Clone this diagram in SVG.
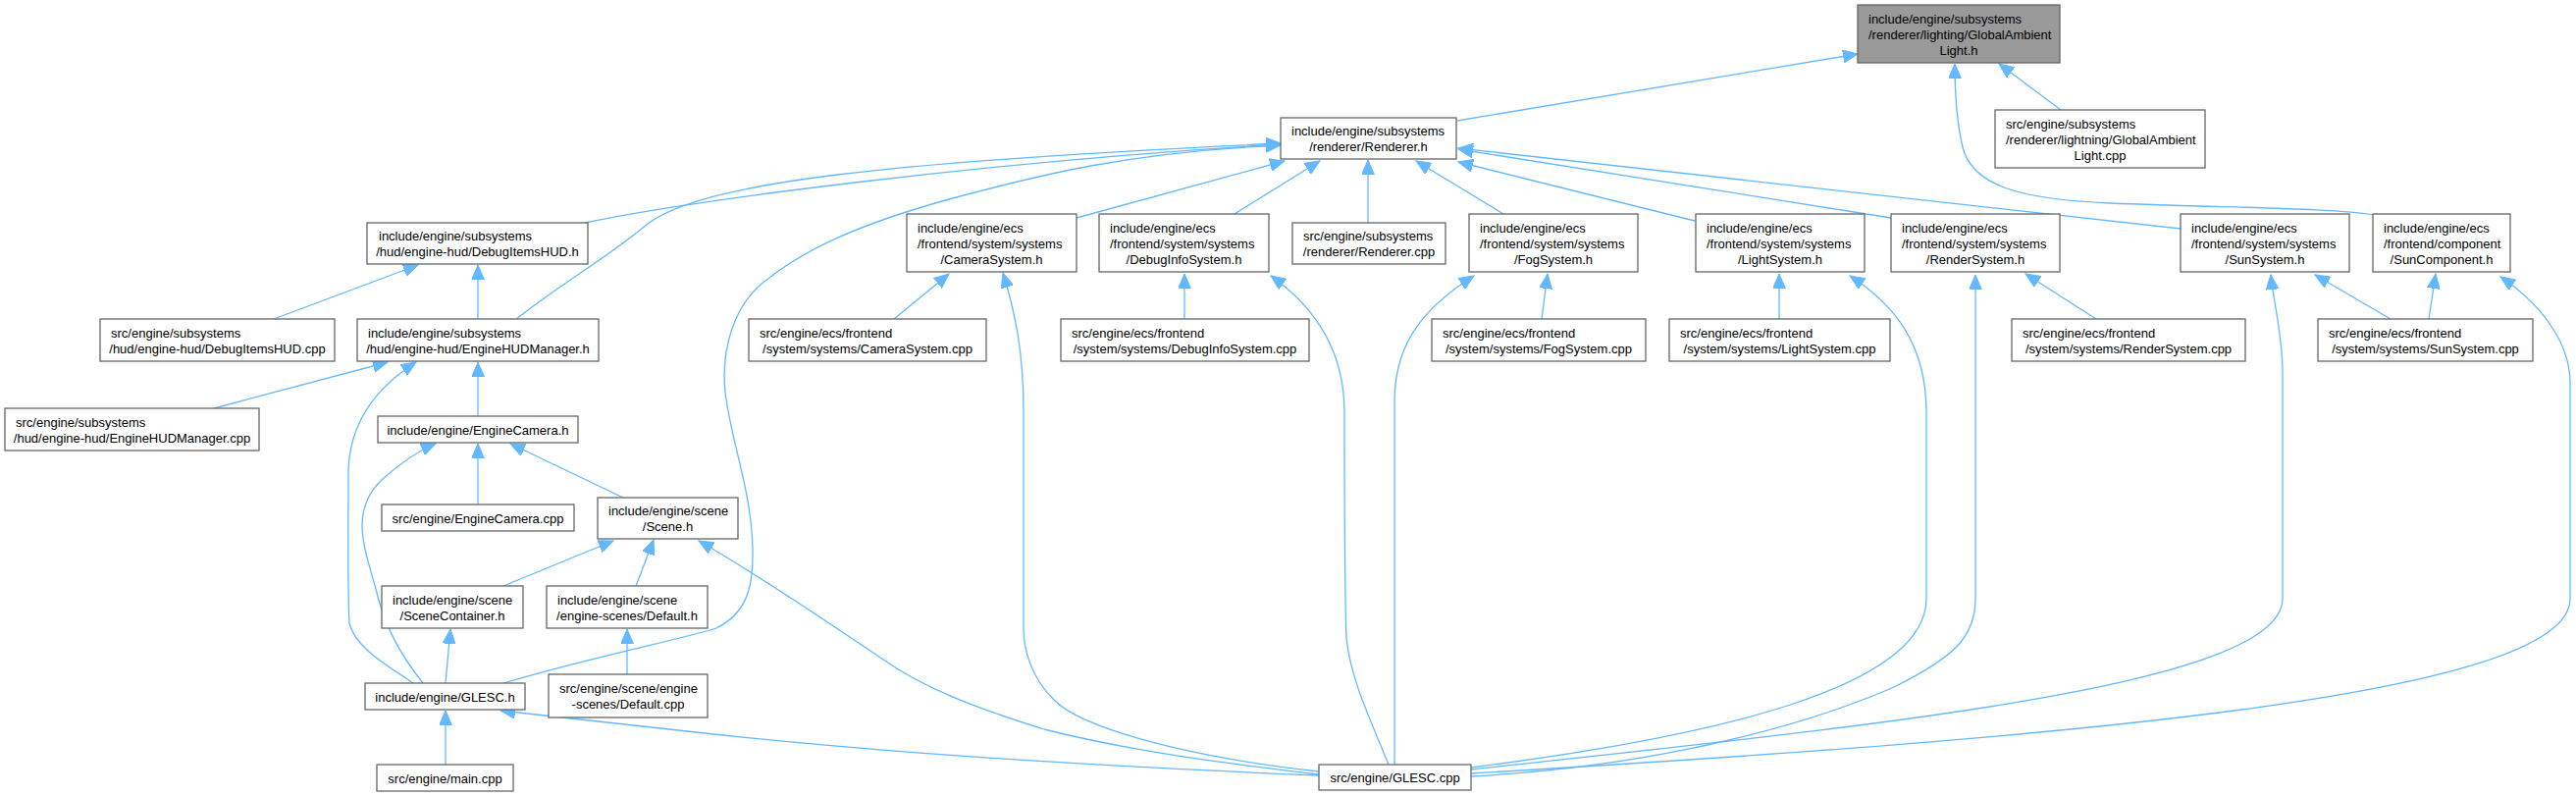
<svg xmlns="http://www.w3.org/2000/svg" width="2625" height="811" viewBox="0 0 2625 811">
<defs>
<style>
.n rect{fill:#ffffff;stroke:#666666;stroke-width:1.3}
.n.root rect{fill:#999999}
.n text{font-family:"Liberation Sans",Arial,sans-serif;font-size:13px;fill:#000000}
.m{text-anchor:middle}
.e path{fill:none;stroke:#63b8ff;stroke-width:1.3;marker-end:url(#arr)}
</style>
<marker id="arr" markerUnits="userSpaceOnUse" markerWidth="16" markerHeight="13" refX="15" refY="6.5" orient="auto">
<path d="M0,0 L15,6.5 L0,13 z" fill="#63b8ff" stroke="#63b8ff" stroke-width="1"/>
</marker>
</defs>
<rect width="2625" height="811" fill="#ffffff"/>
<g id="edges" class="e">
<path d="M1485,123 L1893,55"/>
<path d="M2100,112 L2037,65"/>
<path d="M2420,219 C2380,212 2280,212 2150,207 C2060,203 2010,190 2000,150 C1993,120 1992,90 1992,65"/>
<path d="M596,227 C700,205 1000,165 1305,147"/>
<path d="M526,325 C580,283 620,262 660,228 C720,185 900,165 1305,146"/>
<path d="M513,696 C600,670 700,650 730,640 C760,625 768,600 767,560 C766,500 745,450 739,400 C735,360 745,310 784,283 C820,255 870,230 967,203 C1060,178 1150,155 1305,148"/>
<path d="M1097,222 L1309,164"/>
<path d="M1258,218 L1345,164"/>
<path d="M1394,227 L1394,163"/>
<path d="M1532,218 L1443,164"/>
<path d="M1727,225 L1486,165"/>
<path d="M1927,222 L1486,152"/>
<path d="M2222,233 L1486,151"/>
<path d="M279,325 L426,270"/>
<path d="M487,325 L487,270"/>
<path d="M218,416 L395,369"/>
<path d="M421,696 C395,678 362,660 356,635 C354,600 355,540 355,480 C356,440 375,400 424,369"/>
<path d="M487,424 L487,369"/>
<path d="M487,514 L487,452"/>
<path d="M635,507 L520,452"/>
<path d="M431,696 C410,670 392,640 383,600 C372,560 355,520 390,488 C410,470 425,460 444,452"/>
<path d="M513,597 L625,551"/>
<path d="M648,597 L666,550"/>
<path d="M1344,789 C1250,778 1150,765 1064,743 C990,720 940,700 900,672 C860,645 780,590 712,551"/>
<path d="M454,696 L459,641"/>
<path d="M639,687 L639,641"/>
<path d="M454,779 L454,724"/>
<path d="M1344,790 C1150,782 900,768 700,745 C620,736 560,730 510,724"/>
<path d="M911,325 L967,279"/>
<path d="M1344,786 C1200,770 1100,740 1074,713 C1050,690 1043,660 1043,640 L1043,420 C1043,360 1035,320 1022,278"/>
<path d="M1207,325 L1207,279"/>
<path d="M1415,779 C1395,730 1376,690 1372,650 C1370,600 1370,500 1370,420 C1370,370 1350,320 1295,281"/>
<path d="M1571,325 L1577,279"/>
<path d="M1421,779 L1421,410 C1421,360 1440,320 1502,281"/>
<path d="M1813,325 L1813,279"/>
<path d="M1499,782 C1750,750 1963,700 1963,610 L1963,420 C1963,350 1930,310 1885,281"/>
<path d="M2136,325 L2064,279"/>
<path d="M1499,791 C1700,780 1850,735 1930,700 C1990,670 2013,650 2013,610 L2013,280"/>
<path d="M2436,325 L2359,280"/>
<path d="M1499,784 C1900,740 2326,700 2326,610 L2326,380 C2326,340 2317,310 2314,280"/>
<path d="M2475,325 L2482,279"/>
<path d="M1499,788 C2100,752 2619,710 2619,610 L2619,390 C2619,350 2590,310 2548,282"/>
</g>
<g id="gal_h" class="n root"><rect x="1893" y="5" width="206" height="59"/><text x="1904" y="23.5">include/engine/subsystems</text><text x="1904" y="39.5">/renderer/lighting/GlobalAmbient</text><text x="1996" y="55.5" class="m">Light.h</text></g>
<g id="gal_cpp" class="n"><rect x="2033" y="112" width="214" height="59"/><text x="2044" y="130.5">src/engine/subsystems</text><text x="2044" y="146.5">/renderer/lightning/GlobalAmbient</text><text x="2140" y="162.5" class="m">Light.cpp</text></g>
<g id="renderer_h" class="n"><rect x="1305" y="120" width="179" height="42"/><text x="1316" y="138">include/engine/subsystems</text><text x="1394.5" y="154" class="m">/renderer/Renderer.h</text></g>
<g id="debugitemshud_h" class="n"><rect x="374" y="227" width="225" height="42"/><text x="386" y="245">include/engine/subsystems</text><text x="486.5" y="261" class="m">/hud/engine-hud/DebugItemsHUD.h</text></g>
<g id="camerasystem_h" class="n"><rect x="924" y="218" width="173" height="59"/><text x="935" y="236.5">include/engine/ecs</text><text x="935" y="252.5">/frontend/system/systems</text><text x="1010.5" y="268.5" class="m">/CameraSystem.h</text></g>
<g id="debuginfosystem_h" class="n"><rect x="1120" y="218" width="173" height="59"/><text x="1131" y="236.5">include/engine/ecs</text><text x="1131" y="252.5">/frontend/system/systems</text><text x="1206.5" y="268.5" class="m">/DebugInfoSystem.h</text></g>
<g id="renderer_cpp" class="n"><rect x="1317" y="227" width="156" height="42"/><text x="1328" y="245">src/engine/subsystems</text><text x="1395" y="261" class="m">/renderer/Renderer.cpp</text></g>
<g id="fogsystem_h" class="n"><rect x="1497" y="218" width="172" height="59"/><text x="1508" y="236.5">include/engine/ecs</text><text x="1508" y="252.5">/frontend/system/systems</text><text x="1583" y="268.5" class="m">/FogSystem.h</text></g>
<g id="lightsystem_h" class="n"><rect x="1728" y="218" width="172" height="59"/><text x="1739" y="236.5">include/engine/ecs</text><text x="1739" y="252.5">/frontend/system/systems</text><text x="1814" y="268.5" class="m">/LightSystem.h</text></g>
<g id="rendersystem_h" class="n"><rect x="1927" y="218" width="172" height="59"/><text x="1938" y="236.5">include/engine/ecs</text><text x="1938" y="252.5">/frontend/system/systems</text><text x="2013" y="268.5" class="m">/RenderSystem.h</text></g>
<g id="sunsystem_h" class="n"><rect x="2222" y="218" width="172" height="59"/><text x="2233" y="236.5">include/engine/ecs</text><text x="2233" y="252.5">/frontend/system/systems</text><text x="2308" y="268.5" class="m">/SunSystem.h</text></g>
<g id="suncomponent_h" class="n"><rect x="2418" y="218" width="140" height="59"/><text x="2429" y="236.5">include/engine/ecs</text><text x="2429" y="252.5">/frontend/component</text><text x="2488" y="268.5" class="m">/SunComponent.h</text></g>
<g id="debugitemshud_cpp" class="n"><rect x="102" y="325" width="239" height="43"/><text x="113" y="343.5">src/engine/subsystems</text><text x="221.5" y="359.5" class="m">/hud/engine-hud/DebugItemsHUD.cpp</text></g>
<g id="enginehudmanager_h" class="n"><rect x="364" y="325" width="246" height="43"/><text x="375" y="343.5">include/engine/subsystems</text><text x="487" y="359.5" class="m">/hud/engine-hud/EngineHUDManager.h</text></g>
<g id="enginehudmanager_cpp" class="n"><rect x="5" y="416" width="259" height="43"/><text x="16" y="434.5">src/engine/subsystems</text><text x="134.5" y="450.5" class="m">/hud/engine-hud/EngineHUDManager.cpp</text></g>
<g id="enginecamera_h" class="n"><rect x="385" y="424" width="204" height="27"/><text x="487" y="442.5" class="m">include/engine/EngineCamera.h</text></g>
<g id="enginecamera_cpp" class="n"><rect x="389" y="514" width="196" height="27"/><text x="487" y="532.5" class="m">src/engine/EngineCamera.cpp</text></g>
<g id="scene_h" class="n"><rect x="609" y="507" width="143" height="42"/><text x="620" y="525">include/engine/scene</text><text x="680.5" y="541" class="m">/Scene.h</text></g>
<g id="scenecontainer_h" class="n"><rect x="389" y="597" width="144" height="43"/><text x="400" y="615.5">include/engine/scene</text><text x="461" y="631.5" class="m">/SceneContainer.h</text></g>
<g id="default_h" class="n"><rect x="557" y="597" width="164" height="43"/><text x="568" y="615.5">include/engine/scene</text><text x="639" y="631.5" class="m">/engine-scenes/Default.h</text></g>
<g id="glesc_h" class="n"><rect x="372" y="696" width="163" height="27"/><text x="453.5" y="714.5" class="m">include/engine/GLESC.h</text></g>
<g id="default_cpp" class="n"><rect x="559" y="687" width="162" height="44"/><text x="570" y="706">src/engine/scene/engine</text><text x="640" y="722" class="m">-scenes/Default.cpp</text></g>
<g id="main_cpp" class="n"><rect x="384" y="779" width="139" height="27"/><text x="453.5" y="797.5" class="m">src/engine/main.cpp</text></g>
<g id="glesc_cpp" class="n"><rect x="1344" y="779" width="155" height="26"/><text x="1421.5" y="797" class="m">src/engine/GLESC.cpp</text></g>
<g id="camerasystem_cpp" class="n"><rect x="763" y="325" width="242" height="43"/><text x="774" y="343.5">src/engine/ecs/frontend</text><text x="884" y="359.5" class="m">/system/systems/CameraSystem.cpp</text></g>
<g id="debuginfosystem_cpp" class="n"><rect x="1081" y="325" width="253" height="43"/><text x="1092" y="343.5">src/engine/ecs/frontend</text><text x="1207.5" y="359.5" class="m">/system/systems/DebugInfoSystem.cpp</text></g>
<g id="fogsystem_cpp" class="n"><rect x="1459" y="325" width="218" height="43"/><text x="1470" y="343.5">src/engine/ecs/frontend</text><text x="1568" y="359.5" class="m">/system/systems/FogSystem.cpp</text></g>
<g id="lightsystem_cpp" class="n"><rect x="1701" y="325" width="225" height="43"/><text x="1712" y="343.5">src/engine/ecs/frontend</text><text x="1813.5" y="359.5" class="m">/system/systems/LightSystem.cpp</text></g>
<g id="rendersystem_cpp" class="n"><rect x="2050" y="325" width="238" height="43"/><text x="2061" y="343.5">src/engine/ecs/frontend</text><text x="2169" y="359.5" class="m">/system/systems/RenderSystem.cpp</text></g>
<g id="sunsystem_cpp" class="n"><rect x="2362" y="325" width="219" height="43"/><text x="2373" y="343.5">src/engine/ecs/frontend</text><text x="2471.5" y="359.5" class="m">/system/systems/SunSystem.cpp</text></g>
</svg>
